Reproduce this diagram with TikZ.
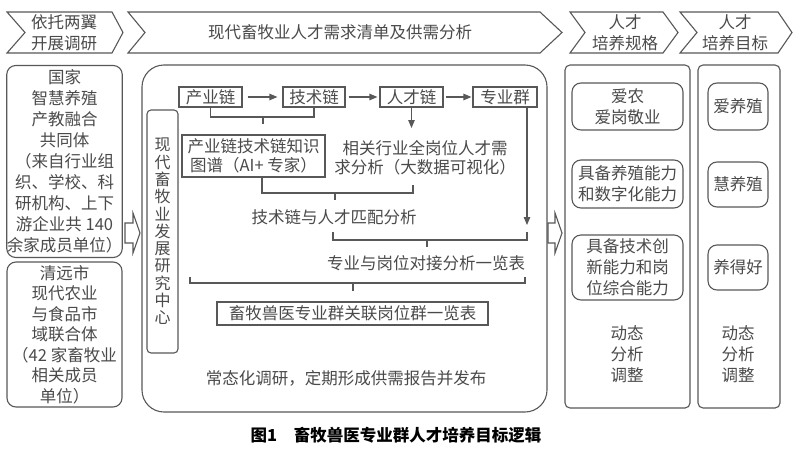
\documentclass[tikz,border=0pt]{standalone}
\usepackage{fontspec}
\setmainfont{Noto Sans CJK SC}
\usetikzlibrary{arrows.meta}
\definecolor{txtc}{HTML}{4A4A4A}
\definecolor{linec}{HTML}{585858}
\newcommand{\fsA}{\fontsize{16.5}{21}\selectfont}
\newcommand{\fsB}{\fontsize{16.5}{20.5}\selectfont}
\newcommand{\fsC}{\fontsize{16.5}{19}\selectfont}
\newcommand{\fsV}{\fontsize{16}{17.3}\selectfont}
\newcommand{\fsR}{\fontsize{16.5}{21}\selectfont}
\tikzset{
  ln/.style={draw=linec, line width=1.1pt},
  arr/.style={ln, -{Triangle[length=8pt,width=6.5pt]}},
  txt/.style={text=txtc, inner sep=0pt, align=center},
  sqbox/.style={ln, text=txtc, inner sep=0pt, align=center},
  rbox/.style={ln, rounded corners=9pt, text=txtc, inner sep=0pt, align=center},
  hollow/.style={draw=linec, line width=1.1pt, fill=white}
}
\begin{document}
\begin{tikzpicture}[x=1pt,y=-1pt]
\useasboundingbox (0,0) rectangle (800,474);
\fill[white] (0,0) rectangle (800,474);

% top chevrons
\draw[ln] (7,12) -- (112,12) -- (123,32.5) -- (112,53) -- (7,53) -- (25,32.5) -- cycle;
\node[txt, font=\fsA] (c1) at (64,32.5) {依托两翼\\开展调研};
\draw[ln] (128,12) -- (540,12) -- (562,32.5) -- (540,53) -- (128,53) -- (145,32.5) -- cycle;
\node[txt, font=\fsA] (c2) at (340,32.5) {现代畜牧业人才需求清单及供需分析};
\draw[ln] (570,12) -- (663,12) -- (678,32.5) -- (663,53) -- (570,53) -- (585,32.5) -- cycle;
\node[txt, font=\fsA] (c3) at (625,32.5) {人才\\培养规格};
\draw[ln] (680,12) -- (778,12) -- (792,32.5) -- (778,53) -- (680,53) -- (697,32.5) -- cycle;
\node[txt, font=\fsA] (c4) at (735,32.5) {人才\\培养目标};

% left boxes
\node[rbox, minimum width=115pt, minimum height=192pt, font=\fsA] (b1) at (64.5,161.5)
  {国家\\智慧养殖\\产教融合\\共同体\\（来自行业组\\织、学校、科\\研机构、上下\\游企业共 140\\余家成员单位）};
\node[rbox, minimum width=115pt, minimum height=145pt, font=\fsB] (b2) at (64.5,334.5)
  {清远市\\现代农业\\与食品市\\域联合体\\（42 家畜牧业\\相关成员\\单位）};

% hollow arrows
\draw[hollow] (125,223) -- (133,223) -- (133,213) -- (140,233) -- (133,253) -- (133,243) -- (125,243) -- cycle;
\draw[hollow] (548,223) -- (555,223) -- (555,213) -- (562,233) -- (555,253) -- (555,243) -- (548,243) -- cycle;

% big panel
\node[ln, rounded corners=22pt, minimum width=405pt, minimum height=347pt, inner sep=0pt] (big) at (344.5,238.5) {};
\node[rbox, rounded corners=4pt, minimum width=31pt, minimum height=243pt, font=\fsV] (zx) at (162.5,231.5)
  {现\\代\\畜\\牧\\业\\发\\展\\研\\究\\中\\心};

% chain row
\node[sqbox, minimum width=63pt, minimum height=20pt, font=\fsA] (cyl) at (210.5,97) {产业链};
\node[sqbox, minimum width=62pt, minimum height=20pt, font=\fsA] (jsl) at (314,97) {技术链};
\node[sqbox, minimum width=63pt, minimum height=20pt, font=\fsA] (rcl) at (411.5,97) {人才链};
\node[sqbox, minimum width=64pt, minimum height=20pt, font=\fsA] (zyq) at (505,97) {专业群};
\draw[arr] ([xshift=5pt]cyl.east) -- ([xshift=-5pt]jsl.west);
\draw[arr] ([xshift=3pt]jsl.east) -- ([xshift=-2pt]rcl.west);
\draw[arr] ([xshift=2pt]rcl.east) -- ([xshift=-1pt]zyq.west);

% bracket 1
\draw[ln] (cyl.south) -- (cyl.south |- 0,117) -- (jsl.south |- 0,117) -- (jsl.south);
\coordinate (t1) at (263,117);
\draw[ln] (t1) -- ++(0,7);

\node[sqbox, minimum width=143pt, minimum height=42pt, font=\fsC] (kg) at (253.5,156)
  {产业链技术链知识\\图谱（AI+ 专家）};
\node[txt, font=\fsC] (xq) at (425,157.5) {相关行业全岗位人才需\\求分析（大数据可视化）};
\draw[arr] (rcl.south) -- (rcl.south |- 0,128);

% bracket 2
\coordinate (b2l) at (262,177);
\coordinate (b2r) at (413,185);
\draw[ln] (b2l) -- (b2l |- 0,193) -- (b2r |- 0,193) -- (b2r);
\coordinate (t2) at (335,193);
\draw[ln] (t2) -- ++(0,7);

\node[txt, font=\fsA] (pp) at (334,217) {技术链与人才匹配分析};
\draw[arr] ([xshift=22pt]zyq.south) -- ([xshift=22pt]zyq.south |- 0,225);

% bracket 3
\coordinate (b3l) at (333,232);
\coordinate (b3r) at (527,232);
\draw[ln] (b3l) -- (b3l |- 0,240) -- (b3r |- 0,240) -- (b3r);
\coordinate (t3) at (427,240);
\draw[ln] (t3) -- ++(0,7);

\node[txt, font=\fsA] (dj) at (426,263) {专业与岗位对接分析一览表};

% bracket 4
\coordinate (b4l) at (190,277);
\coordinate (b4r) at (525,277);
\draw[ln] (b4l) -- (b4l |- 0,283) -- (b4r |- 0,283) -- (b4r);
\coordinate (t4) at (353,283);
\draw[ln] (t4) -- ++(0,8);

\node[sqbox, minimum width=271pt, minimum height=23pt, font=\fsA] (gl) at (352.5,313.5) {畜牧兽医专业群关联岗位群一览表};
\node[txt, font=\fsA] (cl) at (346,378) {常态化调研，定期形成供需报告并发布};

% right panels
\node[ln, rounded corners=5pt, minimum width=125pt, minimum height=343pt, inner sep=0pt] (p1) at (627.5,236.5) {};
\node[ln, rounded corners=5pt, minimum width=82pt, minimum height=343pt, inner sep=0pt] (p2) at (739,236.5) {};

\node[rbox, minimum width=111pt, minimum height=47pt, font=\fsR] (g1) at (627.5,106.5) {爱农\\爱岗敬业};
\node[rbox, minimum width=111pt, minimum height=48pt, font=\fsR] (g2) at (627.5,184) {具备养殖能力\\和数字化能力};
\node[rbox, minimum width=111pt, minimum height=65pt, font=\fsR] (g3) at (627.5,267.5) {具备技术创\\新能力和岗\\位综合能力};
\node[txt, font=\fsR] (g4) at (627,354) {动态\\分析\\调整};

\node[rbox, minimum width=60pt, minimum height=47pt, font=\fsR] (m1) at (738,106.5) {爱养殖};
\node[rbox, minimum width=60pt, minimum height=45pt, font=\fsR] (m2) at (738,184.5) {慧养殖};
\node[rbox, minimum width=60pt, minimum height=45pt, font=\fsR] (m3) at (738,267.5) {养得好};
\node[txt, font=\fsR] (m4) at (738,354) {动态\\分析\\调整};

% caption
\node[inner sep=0pt, text=black, font=\fontsize{16.5}{20}\selectfont\bfseries] (cap) at (396,435) {图1\hspace{1em}畜牧兽医专业群人才培养目标逻辑};
\end{tikzpicture}
\end{document}
